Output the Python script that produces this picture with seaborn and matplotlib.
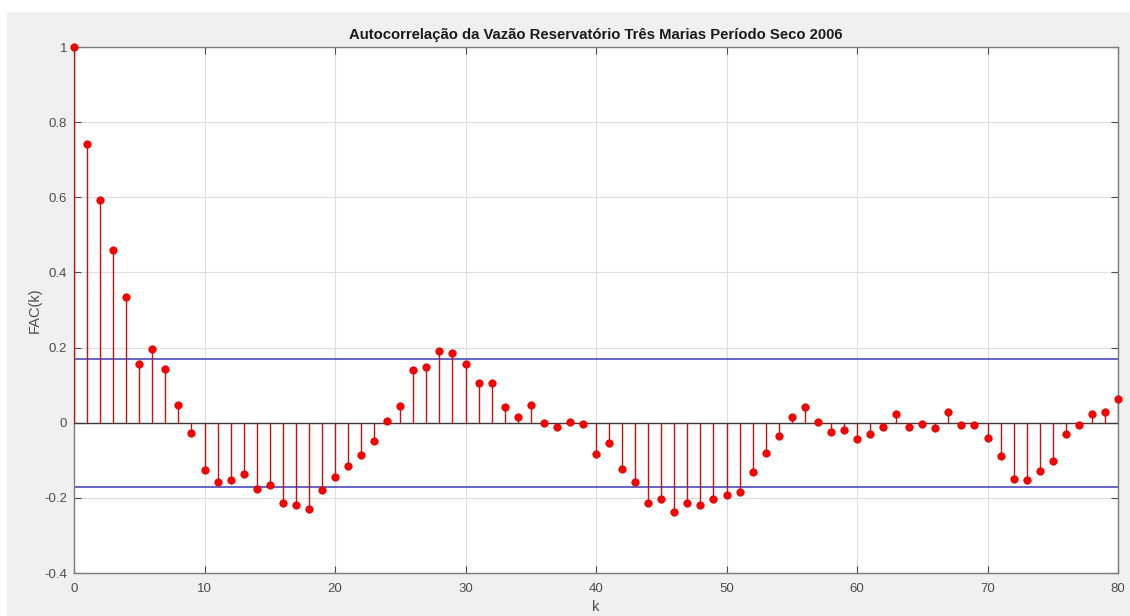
import numpy as np
import pandas as pd
import matplotlib
matplotlib.use("Agg")
import matplotlib.pyplot as plt
import seaborn as sns
from matplotlib.patches import Rectangle

# Sample autocorrelation of the dry-season inflow, lags 0..80
lags = list(range(0, 81))
fac = [
    1.000, 0.741, 0.594, 0.459, 0.334, 0.157, 0.197, 0.142, 0.047, -0.027,
    -0.125, -0.159, -0.153, -0.137, -0.176, -0.167, -0.214, -0.219, -0.230, -0.180,
    -0.145, -0.116, -0.085, -0.050, 0.004, 0.044, 0.141, 0.147, 0.190, 0.186,
    0.155, 0.105, 0.105, 0.042, 0.015, 0.047, -0.001, -0.011, 0.003, -0.004,
    -0.083, -0.053, -0.124, -0.159, -0.214, -0.203, -0.238, -0.214, -0.219, -0.203,
    -0.192, -0.185, -0.132, -0.080, -0.035, 0.014, 0.042, 0.003, -0.024, -0.019,
    -0.043, -0.029, -0.011, 0.023, -0.011, -0.003, -0.013, 0.028, -0.006, -0.006,
    -0.040, -0.088, -0.151, -0.153, -0.129, -0.103, -0.029, -0.006, 0.023, 0.028,
    0.063,
]
conf_limit = 0.17

x_ticks = list(range(0, 81, 10))
y_ticks = [-0.4, -0.2, 0, 0.2, 0.4, 0.6, 0.8, 1]
y_tick_labels = ["-0.4", "-0.2", "0", "0.2", "0.4", "0.6", "0.8", "1"]

title = "Autocorrelação da Vazão Reservatório Três Marias Período Seco 2006"

df = pd.DataFrame({"k": lags, "fac": fac})

sns.set_style("white")
plt.rcParams["font.family"] = ["Liberation Sans", "DejaVu Sans"]

fig = plt.figure(figsize=(11.3, 6.16), dpi=100)
fig.patch.set_facecolor("white")
# grey figure panel with a thin white margin at top and left
fig.patches.append(Rectangle((7 / 1130, 0), 1 - 7 / 1130, 1 - 12 / 616,
                             transform=fig.transFigure, facecolor="#f0f0f0",
                             edgecolor="none", zorder=-10))

ax = fig.add_axes([74 / 1130, 43 / 616, (1118 - 74) / 1130, (573 - 47) / 616])
ax.set_facecolor("white")

ax.set_xlim(0, 80)
ax.set_ylim(-0.4, 1.0)
ax.set_xticks(x_ticks)
ax.set_yticks(y_ticks)
ax.set_yticklabels(y_tick_labels)
ax.grid(True, color="#dedede", linewidth=0.8)
ax.set_axisbelow(True)

# confidence bounds and zero baseline
ax.axhline(conf_limit, color="#3b3bb5", linewidth=1.1, zorder=2)
ax.axhline(-conf_limit, color="#3b3bb5", linewidth=1.1, zorder=2)
ax.axhline(0, color="#3a3a3a", linewidth=1.0, zorder=3)

# stems
ax.vlines(df["k"], 0, df["fac"], color="#cc1010", linewidth=1.0, zorder=4)
sns.scatterplot(data=df, x="k", y="fac", ax=ax, color="#ff0000", s=28,
                edgecolor="#e00000", linewidth=0.6, zorder=5, clip_on=False,
                legend=False)

for side in ["top", "right", "bottom", "left"]:
    ax.spines[side].set_visible(True)
    ax.spines[side].set_color("#7a7a7a")
    ax.spines[side].set_linewidth(1.0)

ax.tick_params(axis="both", direction="in", length=5, width=0.8,
               color="#4a4a4a", labelcolor="#4d4d4d", labelsize=9.5,
               top=True, right=True, bottom=True, left=True)
ax.tick_params(axis="x", pad=7)
ax.tick_params(axis="y", pad=5)

ax.set_xlabel("k", fontsize=10.5, color="#4d4d4d", labelpad=4)
ax.set_ylabel("FAC(k)", fontsize=10.5, color="#4d4d4d", labelpad=2)
ax.set_title(title, fontsize=10.7, fontweight="bold", color="#1a1a1a", pad=6)

fig.savefig("out.png", dpi=100)
